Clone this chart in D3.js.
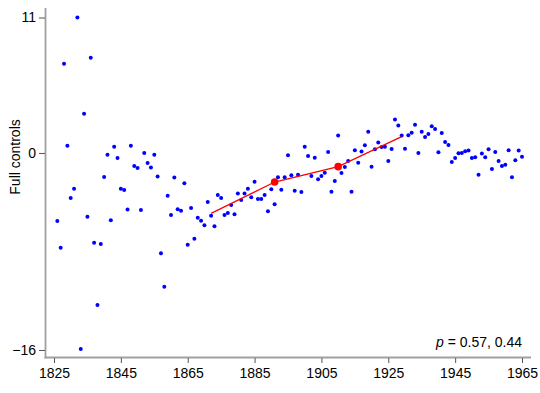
<!DOCTYPE html>
<html>
<head>
<meta charset="utf-8">
<script src="https://cdn.jsdelivr.net/npm/d3@7"></script>
<style>
  html, body { margin: 0; padding: 0; background: #fff; }
  svg { display: block; }
  text { font-family: "Liberation Sans", Arial, sans-serif; fill: #000; }
</style>
</head>
<body>
<div id="chart"></div>
<script>
const years = d3.range(1826, 1966);
const values = [
  -5.52, -7.69, 7.25, 0.59, -3.66, -2.9, 11, -15.92, 3.19, -5.17,
  7.74, -7.29, -12.35, -7.39, -1.95, -0.14, -5.47, 0.51, -0.41, -2.9,
  -3.0, -4.6, 0.59, -1.06, -1.22, -4.63, 0, -0.81, -1.19, -0.14,
  -1.92, -8.15, -10.86, -3.47, -5.04, -2.0, -4.57, -4.69, -2.46, -7.45,
  -4.47, -6.96, -5.26, -5.5, -5.87, -3.98, -5.09, -5.96, -3.41, -3.66,
  -5.04, -4.87, -4.22, -4.98, -3.3, -3.82, -3.3, -2.9, -3.6, -2.33,
  -3.74, -3.74, -3.41, -4.74, -2.95, -4.17, -1.98, -2.98, -1.98, -0.19,
  -1.81, -3.06, -1.76, -3.17, 0.51, -0.24, -1.87, -0.38, -2.14, -1.87,
  -1.6, 0.08, -3.14, -2.27, 1.41, -1.62, -1.14, -0.65, -3.14, 0.22,
  -0.79, 0.11, 0.63, 1.73, -1.11, 0.3, 0.84, 0.49, 0.51, -0.65,
  0.32, 2.71, 2.22, 1.41, 0.35, 1.44, 1.65, 2.3, 0, 1.73,
  1.3, 1.54, 2.17, 1.95, 0.05, 1.62, 0.89, 0.65, -0.73, -0.41,
  -0.03, 0, 0.14, 0.19, -0.41, -0.35, -1.76, -0.05, -0.35, 0.3,
  -1.3, 0.08, -0.65, -1.06, -0.95, 0.22, -1.97, -0.59, 0.19, -0.3
];
const fitYears = [1872, 1891, 1910, 1929];
const fitValues = [-4.9, -2.36, -1.11, 1.32];
const knotYears = [1891, 1910];
const knotValues = [-2.36, -1.11];
const xTicks = [1825, 1845, 1865, 1885, 1905, 1925, 1945, 1965];
const yTicks = [11, 0, -16];
const yTitle = "Full controls";
const pLabel = ["p", " = 0.57, 0.44"];

const W = 540, H = 393;
const svg = d3.select("#chart").append("svg").attr("width", W).attr("height", H);

const x = d3.scaleLinear().domain([1825, 1965]).range([54, 522]);
const y = d3.scaleLinear().domain([-16, 11]).range([350, 17.5]);

const axisX = 45.5, axisY = 357.5;

// axis lines
svg.append("line").attr("x1", axisX).attr("x2", axisX).attr("y1", 8).attr("y2", axisY + 1)
  .attr("stroke", "#a0a0a0").attr("stroke-width", 1.8);
svg.append("line").attr("x1", axisX - 1).attr("x2", 531).attr("y1", axisY).attr("y2", axisY)
  .attr("stroke", "#a0a0a0").attr("stroke-width", 1.8);

// x axis
const gx = svg.append("g").attr("transform", `translate(0,${axisY + 0.5})`)
  .call(d3.axisBottom(x).tickValues(xTicks).tickFormat(d3.format("d")).tickSize(5).tickPadding(5));
gx.select(".domain").remove();
gx.selectAll(".tick line").attr("stroke", "#555").attr("stroke-width", 1);
gx.selectAll(".tick text").attr("font-size", 14).attr("fill", "#000")
  .style("font-family", "'Liberation Sans', Arial, sans-serif");

// y axis
const gy = svg.append("g").attr("transform", `translate(${axisX - 0.5},0)`)
  .call(d3.axisLeft(y).tickValues(yTicks).tickFormat(d3.format("d")).tickSize(6).tickPadding(3));
gy.select(".domain").remove();
gy.selectAll(".tick line").attr("stroke", "#555").attr("stroke-width", 1);
gy.selectAll(".tick text").attr("font-size", 14).attr("fill", "#000")
  .style("font-family", "'Liberation Sans', Arial, sans-serif");

// y title
svg.append("text")
  .attr("transform", `translate(20,${y(0) + 4}) rotate(-90)`)
  .attr("text-anchor", "middle")
  .attr("font-size", 14)
  .text(yTitle);

// points
svg.append("g").selectAll("circle")
  .data(years.map((yr, i) => [yr, values[i]]))
  .join("circle")
  .attr("cx", d => x(d[0]))
  .attr("cy", d => y(d[1]))
  .attr("r", 2)
  .attr("fill", "#0000ff");

// fit line
const line = d3.line().x(d => x(d[0])).y(d => y(d[1]));
svg.append("path")
  .datum(fitYears.map((yr, i) => [yr, fitValues[i]]))
  .attr("d", line)
  .attr("fill", "none")
  .attr("stroke", "#ff0000")
  .attr("stroke-width", 1.3);

svg.append("g").selectAll("circle")
  .data(knotYears.map((yr, i) => [yr, knotValues[i]]))
  .join("circle")
  .attr("cx", d => x(d[0]))
  .attr("cy", d => y(d[1]))
  .attr("r", 3.8)
  .attr("fill", "#ff0000");

// annotation
const ann = svg.append("text")
  .attr("x", 522).attr("y", 347)
  .attr("text-anchor", "end")
  .attr("font-size", 14);
ann.append("tspan").attr("font-style", "italic").text(pLabel[0]);
ann.append("tspan").text(pLabel[1]);
</script>
</body>
</html>
